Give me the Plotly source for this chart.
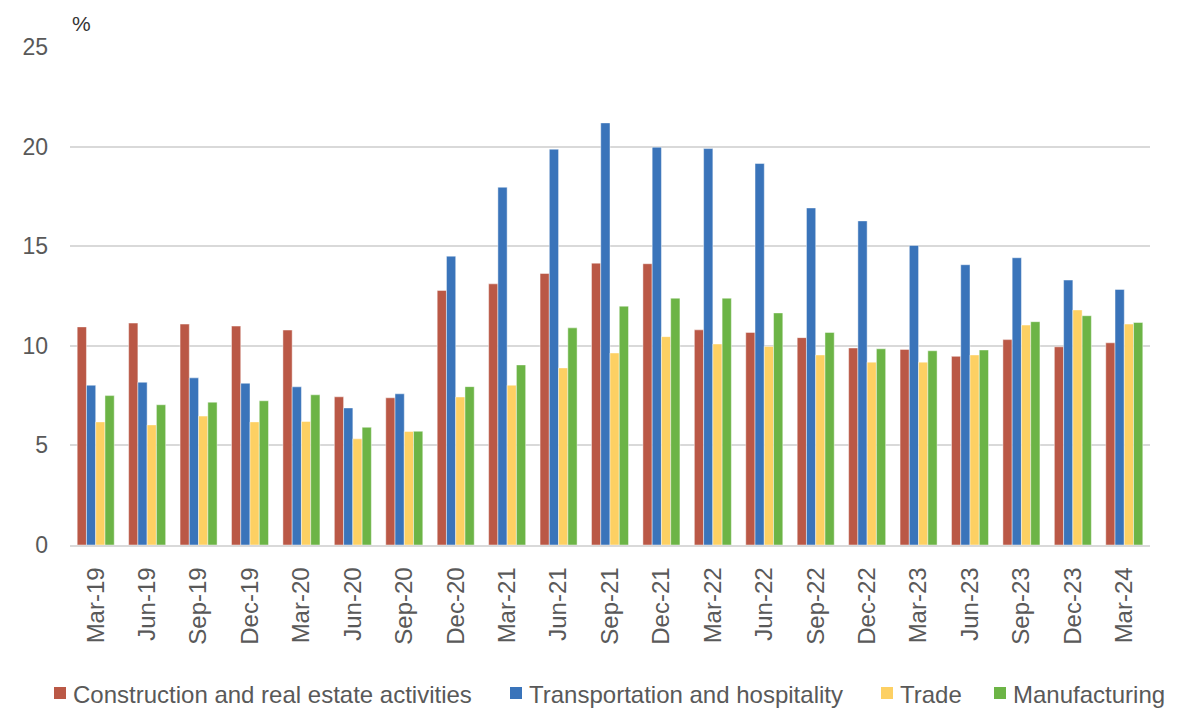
import plotly.graph_objects as go

quarters = ["Mar-19", "Jun-19", "Sep-19", "Dec-19", "Mar-20", "Jun-20", "Sep-20",
            "Dec-20", "Mar-21", "Jun-21", "Sep-21", "Dec-21", "Mar-22", "Jun-22",
            "Sep-22", "Dec-22", "Mar-23", "Jun-23", "Sep-23", "Dec-23", "Mar-24"]

construction = [10.95, 11.14, 11.09, 10.99, 10.79, 7.44, 7.39, 12.78, 13.11, 13.63, 14.15,
                14.12, 10.80, 10.67, 10.41, 9.89, 9.82, 9.47, 10.31, 9.95, 10.15]
transport = [8.02, 8.17, 8.39, 8.12, 7.94, 6.88, 7.59, 14.50, 17.96, 19.87, 21.19,
             19.97, 19.90, 19.15, 16.92, 16.27, 15.04, 14.07, 14.42, 13.30, 12.83]
trade = [6.18, 6.03, 6.47, 6.18, 6.20, 5.33, 5.70, 7.43, 8.02, 8.89, 9.64,
         10.46, 10.09, 9.97, 9.54, 9.18, 9.18, 9.54, 11.04, 11.80, 11.09]
manufacturing = [7.50, 7.04, 7.17, 7.24, 7.54, 5.91, 5.71, 7.95, 9.04, 10.90, 11.99,
                 12.39, 12.39, 11.65, 10.67, 9.85, 9.75, 9.79, 11.21, 11.51, 11.17]

series_names = ["Construction and real estate activities", "Transportation and hospitality",
                "Trade", "Manufacturing"]
series_values = [construction, transport, trade, manufacturing]
series_colors = ["#BA5846", "#3A74BA", "#FDD063", "#6CB446"]

text_color = "#595959"
font_family = "Liberation Sans, Arial, sans-serif"

# Page geometry (pixels)
W, H = 1178, 708
M_L, M_R, M_T, M_B = 70, 28, 47, 163
PLOT_W = W - M_L - M_R
PLOT_H = H - M_T - M_B


def px_to_paper_x(px):
    return (px - M_L) / PLOT_W


def px_to_paper_y(py):
    return (H - M_B - py) / PLOT_H


fig = go.Figure()
for name, vals, col in zip(series_names, series_values, series_colors):
    fig.add_trace(go.Bar(
        x=quarters, y=vals, name=name, showlegend=False,
        marker=dict(color=col, line=dict(color="rgba(255,255,255,0.45)", width=1)),
    ))

# Single-row legend along the bottom: swatch left edges in pixels
swatch_left = [54, 510, 881, 994]
swatch_size = 12
legend_cy = 693
shapes = []
annotations = []
for name, col, sx in zip(series_names, series_colors, swatch_left):
    shapes.append(dict(
        type="rect", xref="paper", yref="paper",
        x0=px_to_paper_x(sx), x1=px_to_paper_x(sx + swatch_size),
        y0=px_to_paper_y(legend_cy + swatch_size / 2),
        y1=px_to_paper_y(legend_cy - swatch_size / 2),
        fillcolor=col, line=dict(width=0),
    ))
    annotations.append(dict(
        text=name, xref="paper", yref="paper",
        x=px_to_paper_x(sx + swatch_size + 5), y=px_to_paper_y(legend_cy + 1),
        xanchor="left", yanchor="middle", showarrow=False,
        font=dict(size=24, color=text_color),
    ))

annotations.append(dict(text="%", xref="paper", yref="paper", x=0, y=1,
                        xanchor="left", yanchor="bottom", xshift=0, yshift=10,
                        showarrow=False, font=dict(size=21, color="#333333")))

fig.update_layout(
    width=W, height=H,
    margin=dict(l=M_L, r=M_R, t=M_T, b=M_B),
    paper_bgcolor="white", plot_bgcolor="white",
    barmode="group", bargap=0.28, bargroupgap=0,
    font=dict(family=font_family, color=text_color, size=23),
    showlegend=False,
    xaxis=dict(tickangle=-90, tickfont=dict(size=24, color=text_color),
               showgrid=False, showline=True, linecolor="#D9D9D9", linewidth=1.5,
               ticks="", ticklabelstandoff=11, automargin=False),
    yaxis=dict(range=[0, 25], tickvals=[0, 5, 10, 15, 20, 25],
               tickfont=dict(size=23, color=text_color),
               showgrid=True, gridcolor="#D9D9D9", gridwidth=1.5,
               zeroline=False, showline=False, ticks="", ticklabelstandoff=21,
               automargin=False),
    shapes=shapes,
    annotations=annotations,
)

fig.write_html("out.html")
